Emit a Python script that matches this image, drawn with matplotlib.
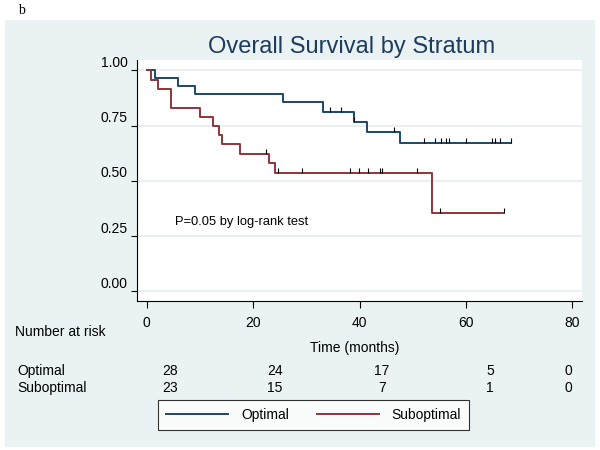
import matplotlib.pyplot as plt
from matplotlib.patches import Rectangle
from matplotlib.lines import Line2D
import matplotlib.transforms as mtransforms

plt.rcParams['font.family'] = ['Liberation Sans', 'DejaVu Sans']

# Kaplan-Meier steps (time in months, survival)
opt_times = [0, 1.5, 5.8, 9.0, 25.7, 33.2, 39.0, 41.4, 47.6]
opt_surv = [1.0, 0.964, 0.929, 0.893, 0.855, 0.814, 0.768, 0.723, 0.673]
opt_end = 68.5
opt_censor = [34.5, 36.5, 39.0, 46.5, 52.2, 54.1, 55.3, 56.2, 56.9,
              60.0, 64.8, 65.5, 66.4, 68.5]

sub_times = [0, 0.8, 2.2, 4.5, 10.0, 12.5, 13.5, 14.1, 17.5, 23.0, 24.1, 53.6]
sub_surv = [1.0, 0.957, 0.915, 0.832, 0.791, 0.750, 0.708, 0.666, 0.624,
            0.580, 0.538, 0.357]
sub_end = 67.2
sub_censor = [22.4, 24.7, 29.1, 38.2, 39.9, 41.5, 43.9, 44.2, 50.8, 55.1, 67.2]

# number at risk table
risk_times = [0, 20, 40, 60, 80]
risk_opt = [28, 24, 17, 5, 0]
risk_sub = [23, 15, 7, 1, 0]

navy = '#1a476f'
maroon = '#90353b'
bg = '#eaf2f3'


def surv_at(times, surv, t):
    # survival level of the step curve at time t
    s = surv[0]
    for ti, si in zip(times, surv):
        if ti <= t:
            s = si
    return s


fig = plt.figure(figsize=(6, 4.5), dpi=100)
fig.patch.set_facecolor('white')
fig.add_artist(Rectangle((5 / 600, 1 - 447 / 450), 590 / 600, 427 / 450,
                         transform=fig.transFigure, facecolor=bg,
                         edgecolor='none', zorder=0))
fig.text(18 / 600, 1 - 10 / 450, 'b', family='Liberation Serif',
         fontsize=10, va='center', ha='left')

ax = fig.add_axes([137.3 / 600, 1 - 301 / 450, (582 - 137.3) / 600, (301 - 60) / 450])
ax.set_facecolor('white')
ax.set_xlim(-1.77, 81.8)
ax.set_ylim(-0.043, 1.047)

for g in [0, 0.25, 0.5, 0.75, 1.0]:
    ax.axhline(g, color='#e6eef0', lw=1.2, zorder=1)

ax.step(opt_times + [opt_end], opt_surv + [opt_surv[-1]], where='post',
        color=navy, lw=1.4, zorder=3)
ax.step(sub_times + [sub_end], sub_surv + [sub_surv[-1]], where='post',
        color=maroon, lw=1.4, zorder=3)

# censoring marks
for t in opt_censor:
    s = surv_at(opt_times, opt_surv, t)
    ax.vlines(t, s, s + 0.02, color='black', lw=0.8, zorder=4)
for t in sub_censor:
    s = surv_at(sub_times, sub_surv, t)
    ax.vlines(t, s, s + 0.02, color='black', lw=0.8, zorder=4)

ax.text(5.3, 0.315, 'P=0.05 by log-rank test', fontsize=9.3, va='center')

ax.spines['top'].set_visible(False)
ax.spines['right'].set_visible(False)
ax.set_xticks([0, 20, 40, 60, 80])
ax.set_yticks([0, 0.25, 0.5, 0.75, 1.0])
ax.set_yticklabels(['0.00', '0.25', '0.50', '0.75', '1.00'])
ax.tick_params(labelsize=10, length=5, width=0.8)
ax.tick_params(axis='x', pad=6)
ax.tick_params(axis='y', length=4, pad=3)
off = mtransforms.ScaledTranslation(0, 9 / 100, fig.dpi_scale_trans)
for lab in ax.get_yticklabels():
    lab.set_transform(lab.get_transform() + off)

fig.text(352 / 600, 1 - 47 / 450, 'Overall Survival by Stratum',
         fontsize=17, color='#1c3d5e', ha='center', va='center')
fig.text(355 / 600, 1 - 348 / 450, 'Time (months)', fontsize=10,
         ha='center', va='center')
fig.text(15 / 600, 1 - 332 / 450, 'Number at risk', fontsize=10,
         ha='left', va='center')
fig.text(17 / 600, 1 - 371 / 450, 'Optimal', fontsize=10, ha='left', va='center')
fig.text(17 / 600, 1 - 388 / 450, 'Suboptimal', fontsize=10, ha='left', va='center')

risk_x_px = [170, 275, 382, 490, 568]
for xp, a, b in zip(risk_x_px, risk_opt, risk_sub):
    fig.text(xp / 600, 1 - 371 / 450, str(a), fontsize=10, ha='center', va='center')
    fig.text(xp / 600, 1 - 388 / 450, str(b), fontsize=10, ha='center', va='center')

handles = [Line2D([], [], color=navy, lw=1.4), Line2D([], [], color=maroon, lw=1.4)]
leg = fig.legend(handles, ['Optimal', 'Suboptimal'], loc='center',
                 bbox_to_anchor=(313.5 / 600, 1 - 415 / 450), ncol=2,
                 fontsize=10, frameon=True, fancybox=False, handlelength=4.5,
                 columnspacing=2.0, borderpad=0.6, handletextpad=0.9)
leg.get_frame().set_edgecolor('black')
leg.get_frame().set_linewidth(0.8)

plt.savefig('out.png', dpi=100)
